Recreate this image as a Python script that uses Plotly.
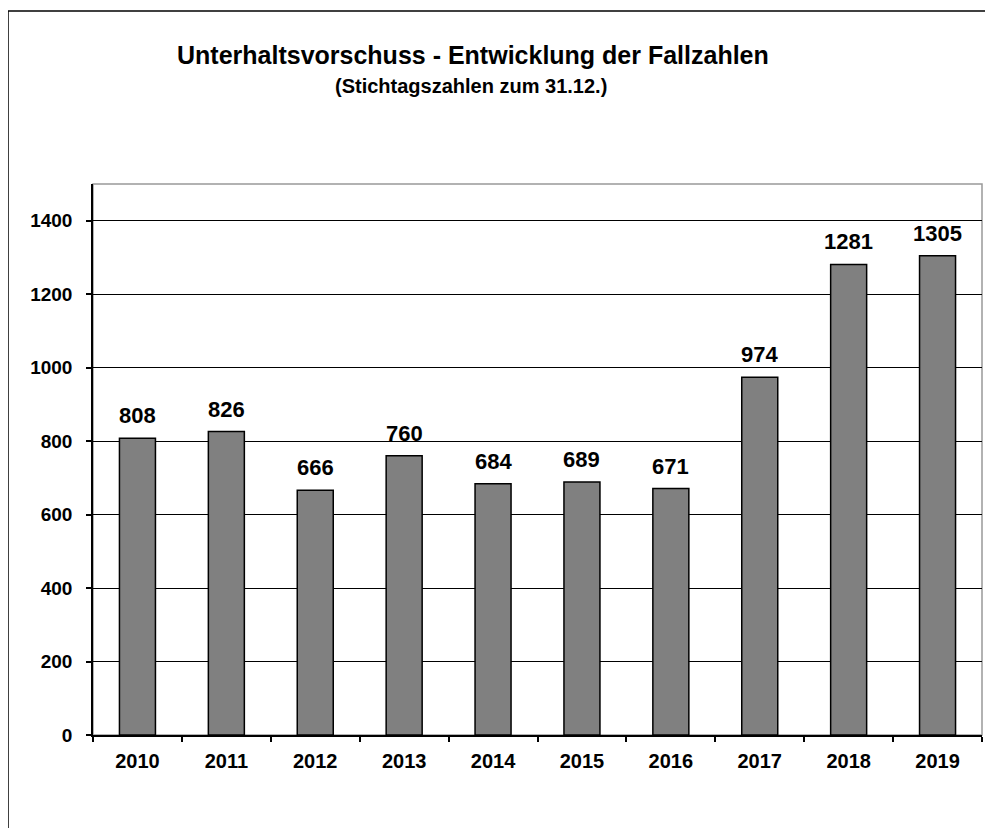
import plotly.graph_objects as go

years = ["2010", "2011", "2012", "2013", "2014", "2015", "2016", "2017", "2018", "2019"]
cases = [808, 826, 666, 760, 684, 689, 671, 974, 1281, 1305]
y_ticks = [0, 200, 400, 600, 800, 1000, 1200, 1400]

# die Seite hat 8px Rand, daher Figur etwas kleiner
OFF = 8
W, H = 985, 820
L, R, T, B = 85, 11, 176, 93
FONT = "Arial, Liberation Sans, sans-serif"


def px_to_paper_x(px):
    # px in Bildschirmkoordinaten
    return (px - OFF - L) / (W - L - R)


def px_to_paper_y(py):
    return (H - B - (py - OFF)) / (H - T - B)


fig = go.Figure(go.Bar(
    x=years, y=cases,
    marker=dict(color="#808080", line=dict(color="black", width=1.5)),
    showlegend=False, hoverinfo="x+y"))

# Werte ueber den Balken (x als Kategorie-Index)
for i, val in enumerate(cases):
    fig.add_annotation(x=i, y=val, text=str(val), showarrow=False,
                       yanchor="bottom", yshift=8,
                       font=dict(family=FONT, size=22, color="black", weight="bold"))

# Titel
fig.add_annotation(xref="paper", yref="paper", x=px_to_paper_x(473), y=px_to_paper_y(55),
                   text="<b>Unterhaltsvorschuss - Entwicklung der Fallzahlen</b>",
                   showarrow=False, xanchor="center", yanchor="middle",
                   font=dict(family=FONT, size=25, color="black"))
fig.add_annotation(xref="paper", yref="paper", x=px_to_paper_x(471), y=px_to_paper_y(86),
                   text="<b>(Stichtagszahlen zum 31.12.)</b>",
                   showarrow=False, xanchor="center", yanchor="middle",
                   font=dict(family=FONT, size=20, color="black"))

# Rahmen Plotbereich (grau) und aeusserer Rahmen
fig.add_shape(type="rect", xref="paper", yref="paper", x0=0, x1=1, y0=0, y1=1,
              line=dict(color="#999999", width=1.5), layer="below")
fig.add_shape(type="line", xref="paper", yref="paper",
              x0=px_to_paper_x(8), x1=px_to_paper_x(8),
              y0=px_to_paper_y(11), y1=px_to_paper_y(840),
              line=dict(color="black", width=1.5))
fig.add_shape(type="line", xref="paper", yref="paper",
              x0=px_to_paper_x(8), x1=px_to_paper_x(1000),
              y0=px_to_paper_y(11), y1=px_to_paper_y(11),
              line=dict(color="black", width=1.5))

fig.update_layout(
    width=W, height=H,
    margin=dict(l=L, r=R, t=T, b=B, pad=0, autoexpand=False),
    paper_bgcolor="white", plot_bgcolor="white",
    bargap=0.595,
    font=dict(family=FONT, color="black"))

fig.update_xaxes(
    type="category", tickson="boundaries", ticks="outside", ticklen=5, tickwidth=1.5,
    tickcolor="black", showline=True, linecolor="black", linewidth=1.5,
    showgrid=False, ticklabelstandoff=7, tickangle=0,
    tickfont=dict(family=FONT, size=20, color="black", weight="bold"))
fig.update_yaxes(
    range=[0, 1500], tickvals=y_ticks, ticks="outside", ticklen=5, tickwidth=1.5,
    tickcolor="black", showline=True, linecolor="black", linewidth=1.5,
    showgrid=True, gridcolor="black", gridwidth=1, zeroline=False,
    ticklabelstandoff=10,
    tickfont=dict(family=FONT, size=19, color="black", weight="bold"))

fig.write_html("out.html")
